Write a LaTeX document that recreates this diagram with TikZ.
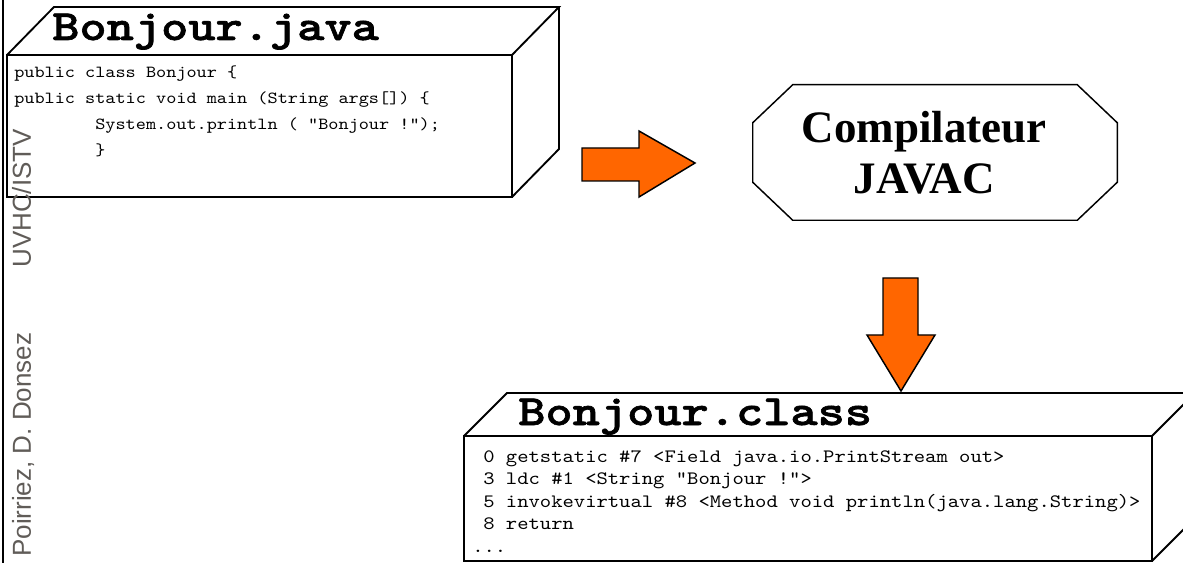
\documentclass[tikz,border=0pt]{standalone}
\usepackage{fontspec}
\setmainfont{Liberation Serif}
\setsansfont{Liberation Sans}
\newfontfamily\codefont{lmmono10-regular.otf}[FakeStretch=1.14]
\newfontfamily\titlefont{lmmonolt10-bold.otf}[FakeStretch=1.2, FakeBold=1.5]
\definecolor{javaorange}{RGB}{255,102,0}
\definecolor{margingray}{RGB}{96,92,88}
\tikzset{
  box/.style={line width=1.4pt, line join=miter},
  filetitle/.style={font=\titlefont\fontsize{32.4}{34}\selectfont, inner sep=0pt, anchor=base west},
  javacode/.style={font=\codefont\fontsize{12.7}{14}\selectfont, inner sep=0pt, anchor=base west},
  classcode/.style={font=\codefont\fontsize{14.2}{16}\selectfont, inner sep=0pt, anchor=base west},
  compiler/.style={minimum width=273pt, minimum height=101.25pt, align=center,
    font=\bfseries\fontsize{33.75}{38.25}\selectfont},
  outline/.style={line width=1.1pt, line join=miter},
  fatarrow/.style={fill=javaorange, draw=black, line width=1.1pt, line join=miter},
  margin/.style={font=\sffamily\fontsize{19.5}{20}\selectfont, text=margingray, rotate=90, inner sep=0pt, anchor=base west},
}
\begin{document}
\begin{tikzpicture}[x=0.75pt, y=-0.75pt]
    \clip (0,0) rectangle (1183,563);
    \draw[line width=1pt] (3,0) -- (3,563);% page border
    % source file
    \draw[box] (7,55) rectangle (512,197);% front
    \draw[box] (7,55) -- (54,7) -- (559,7) -- (512,55);% top
    \draw[box] (512,197) -- (559,149) -- (559,7);% side
    \node[filetitle] (javatitle) at (52,40) {Bonjour.java};
    \node[javacode] (jline1) at (14,78) {public class Bonjour \{};
    \node[javacode] (jline2) at (14,104) {public static void main (String args[]) \{};
    \node[javacode] (jline3) at (14,130) {\phantom{00000000}System.out.println ( "Bonjour !");};
    \node[javacode] (jline4) at (14,156) {\phantom{00000000}\}};
    % compiler
    \node[compiler] (javac) at (935,152.5) {Compilateur\hspace*{16pt}\\JAVAC\hspace*{16pt}};
    \draw[outline] ([xshift=30pt]javac.north west) -- ([xshift=-30pt]javac.north east)
      -- ([yshift=-28.5pt]javac.north east) -- ([yshift=28.5pt]javac.south east)
      -- ([xshift=-30pt]javac.south east) -- ([xshift=30pt]javac.south west)
      -- ([yshift=28.5pt]javac.south west) -- ([yshift=-28.5pt]javac.north west) -- cycle;
    \draw[fatarrow] (582,148) -- (639,148) -- (639,131) -- (695,163) -- (639,197) -- (639,181) -- (582,181) -- cycle;% to javac
    \draw[fatarrow] (883,278) -- (918,278) -- (918,335) -- (935,335) -- (901,391) -- (867,335) -- (883,335) -- cycle;% from javac
    % byte code
    \draw[box] (464,436) rectangle (1152,561);% front
    \draw[box] (464,436) -- (507,393) -- (1195,393) -- (1152,436);% top
    \draw[box] (1152,561) -- (1195,518) -- (1195,393);% side
    \node[filetitle] (classtitle) at (518,425) {Bonjour.class};
    \node[classcode] (cline1) at (483,462) {0 getstatic \#7 <Field java.io.PrintStream out>};
    \node[classcode] (cline2) at (483,484.5) {3 ldc \#1 <String "Bonjour !">};
    \node[classcode] (cline3) at (483,507) {5 invokevirtual \#8 <Method void println(java.lang.String)>};
    \node[classcode] (cline4) at (483,529.5) {8 return};
    \node[classcode] (cline5) at (472,552) {...};
    % margin
    \node[margin] (authors) at (31,557) {Poirriez, D. Donsez};
    \node[margin] (school) at (31,268) {UVHC/ISTV};
  \end{tikzpicture}
\end{document}
